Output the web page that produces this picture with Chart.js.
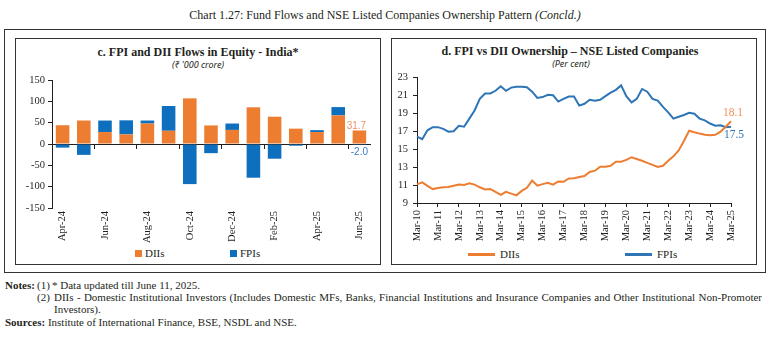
<!DOCTYPE html>
<html>
<head>
<meta charset="utf-8">
<script src="https://cdn.jsdelivr.net/npm/chart.js@4.4.1/dist/chart.umd.min.js"></script>
<style>
  html, body { margin: 0; padding: 0; background: #fff; }
  body { width: 770px; height: 338px; position: relative; overflow: hidden;
         font-family: "Liberation Serif", serif; color: #231f20; }
  .abs { position: absolute; }
  #head { left: 0; top: 8px; width: 770px; text-align: center; font-size: 12px; line-height: 14px; }
  #frame { left: 4px; top: 29px; width: 760px; height: 242px; border: 1px solid #333; }
  .panel { top: 38px; width: 364px; height: 225px; border: 1px solid #333; }
  .ptitle { font-weight: bold; font-size: 12px; line-height: 13px; text-align: center; width: 364px; }
  .psub { font-family: "Noto Sans", sans-serif; font-style: italic; font-size: 9px; line-height: 11px;
          text-align: center; width: 364px; }
  .lg { font-size: 11px; line-height: 12px; }
  .sw { width: 7px; height: 7px; }
  .ln { width: 27px; height: 3px; }
  .note { font-size: 11px; line-height: 12px; white-space: nowrap; }
  .just { text-align: justify; text-align-last: justify; white-space: normal; }
</style>
</head>
<body>
<div id="head" class="abs">Chart 1.27: Fund Flows and NSE Listed Companies Ownership Pattern <i>(Concld.)</i></div>
<div id="frame" class="abs"></div>
<div class="abs panel" style="left:15px"></div>
<div class="abs panel" style="left:391px"></div>

<div class="abs ptitle" style="left:16px; top:46px">c. FPI and DII Flows in Equity - India*</div>
<div class="abs psub" style="left:16px; top:59px">(₹ '000 crore)</div>
<div class="abs ptitle" style="left:388px; top:45px">d. FPI vs DII Ownership – NSE Listed Companies</div>
<div class="abs psub" style="left:389px; top:58px">(Per cent)</div>

<canvas id="flows" class="abs" width="364" height="176" style="left:16px; top:70px"></canvas>
<canvas id="ownership" class="abs" width="364" height="180" style="left:392px; top:66px"></canvas>

<!-- legends -->
<div class="abs sw" style="left:135px; top:250px; background:#ED7D31"></div>
<div class="abs lg" style="left:145px; top:247px">DIIs</div>
<div class="abs sw" style="left:230px; top:250px; background:#0F6FBF"></div>
<div class="abs lg" style="left:240px; top:247px">FPIs</div>
<div class="abs ln" style="left:468px; top:253px; background:#ED7D31"></div>
<div class="abs lg" style="left:500px; top:248px">DIIs</div>
<div class="abs ln" style="left:625px; top:253px; background:#2E75B6"></div>
<div class="abs lg" style="left:657px; top:248px">FPIs</div>

<!-- notes -->
<div class="abs note" style="left:5px; top:279px"><b>Notes:</b></div>
<div class="abs note" style="left:37px; top:279px">(1)</div>
<div class="abs note" style="left:52px; top:279px">* Data updated till June 11, 2025.</div>
<div class="abs note" style="left:37px; top:291px">(2)</div>
<div class="abs note just" style="left:54px; top:291px; width:708px; height:12px; overflow:hidden">DIIs - Domestic Institutional Investors (Includes Domestic MFs, Banks, Financial Institutions and Insurance Companies and Other Institutional Non-Promoter</div>
<div class="abs note" style="left:54px; top:303px">Investors).</div>
<div class="abs note" style="left:5px; top:316px"><b>Sources:</b> Institute of International Finance, BSE, NSDL and NSE.</div>

<script>
// monthly equity flows, '000 crore
const months = ['Apr-24', 'May-24', 'Jun-24', 'Jul-24', 'Aug-24', 'Sep-24', 'Oct-24', 'Nov-24',
                'Dec-24', 'Jan-25', 'Feb-25', 'Mar-25', 'Apr-25', 'May-25', 'Jun-25'];
const diiFlows = [44, 55, 28, 22.5, 48, 31, 107, 43.5, 33, 86, 64, 36, 28, 67, 31.7];
const fpiFlows = [-8.5, -25.5, 27, 33, 7, 58, -94, -21.5, 15, -79, -34.5, -4, 4.5, 19.5, -2.0];
const flowTicks = { min: -150, max: 150, step: 50 };

// quarterly ownership share, per cent (Mar-10 .. Mar-25)
const qMonths = ['Mar', 'Jun', 'Sep', 'Dec'];
const quarters = [];
for (let yr = 10; yr <= 25; yr++) {
  for (const m of qMonths) {
    if (yr === 25 && m !== 'Mar') break;
    quarters.push(m + '-' + yr);
  }
}
const diiShare = [11.07, 11.3, 10.9, 10.55, 10.67, 10.75, 10.78, 10.93, 11.07, 11.0,
                  11.2, 11.05, 10.75, 10.5, 10.55, 10.25, 9.9, 10.25, 10.05, 9.85,
                  10.35, 10.7, 11.5, 10.93, 11.1, 11.25, 11.05, 11.4, 11.36, 11.73,
                  11.76, 11.9, 12.0, 12.45, 12.6, 13.05, 13.05, 13.15, 13.6, 13.6,
                  13.8, 14.1, 13.9, 13.7, 13.47, 13.25, 13.02, 13.15, 13.7, 14.2,
                  14.85, 15.9, 17.05, 16.88, 16.73, 16.6, 16.55, 16.6, 16.95, 17.5, 18.1];
const fpiShare = [16.4, 16.1, 17.1, 17.45, 17.45, 17.25, 16.95, 17.0, 17.6, 17.5,
                  18.4, 19.3, 20.6, 21.2, 21.2, 21.5, 22.0, 21.5, 21.85, 21.95,
                  21.95, 21.9, 21.4, 20.7, 20.8, 21.05, 21.0, 20.3, 20.6, 20.85,
                  20.85, 19.85, 20.05, 20.5, 20.4, 20.5, 20.9, 21.3, 21.6, 22.1,
                  20.9, 20.2, 20.6, 21.7, 21.4, 20.6, 20.4, 19.7, 19.1, 18.4,
                  18.6, 18.8, 19.05, 18.95, 18.4, 18.2, 17.85, 17.6, 17.65, 17.45, 17.5];
const shareTicks = { min: 9, max: 23, step: 2 };

const ORANGE = '#ED7D31';
const BLUE_BAR = '#0F6FBF';
const BLUE_LINE = '#2E75B6';
const INK = '#231f20';
const SERIF = '"Liberation Serif", serif';

// writes the latest value next to the last mark of a dataset
const endLabels = {
  id: 'endLabels',
  afterDatasetsDraw(chart, args, opts) {
    const ctx = chart.ctx;
    ctx.save();
    ctx.textAlign = 'center';
    ctx.textBaseline = 'alphabetic';
    opts.items.forEach(item => {
      const meta = chart.getDatasetMeta(item.dataset);
      const el = meta.data[meta.data.length - 1];
      const vals = chart.data.datasets[item.dataset].data;
      ctx.font = item.font;
      ctx.fillStyle = item.color;
      ctx.fillText(vals[vals.length - 1].toFixed(1), el.x + item.dx, el.y + item.dy);
    });
    ctx.restore();
  }
};

Chart.defaults.animation = false;
Chart.defaults.font.family = SERIF;
Chart.defaults.color = INK;

new Chart(document.getElementById('flows'), {
  type: 'bar',
  data: {
    labels: months,
    datasets: [
      { label: 'DIIs', data: diiFlows, backgroundColor: ORANGE },
      { label: 'FPIs', data: fpiFlows, backgroundColor: BLUE_BAR }
    ]
  },
  options: {
    responsive: false,
    layout: { padding: { top: 10, right: 10, left: 0, bottom: 0 } },
    barPercentage: 0.64,
    categoryPercentage: 1,
    plugins: {
      legend: { display: false },
      tooltip: { enabled: false },
      endLabels: {
        items: [
          { dataset: 0, dx: -3, dy: -1, color: '#F2916A', font: '10px "Liberation Sans", sans-serif' },
          { dataset: 1, dx: 0, dy: 10, color: '#3B7CC4', font: '10px "Liberation Sans", sans-serif' }
        ]
      }
    },
    scales: {
      x: {
        stacked: true,
        grid: { display: false, drawTicks: false },
        border: { display: false },
        ticks: {
          autoSkip: false, minRotation: 90, maxRotation: 90, padding: 3,
          font: { size: 10.5 },
          callback: function (v, i) { return i % 2 === 0 ? this.getLabelForValue(v) : ''; }
        },
        afterFit: s => { s.height = 38; }
      },
      // zero line with a tick mark every two months
      xZero: {
        axis: 'x',
        type: 'category',
        labels: months,
        position: { y: 0 },
        offset: true,
        z: 1,
        grid: {
          offset: true,
          drawOnChartArea: false,
          tickLength: 4,
          color: ctx => (ctx.index > 0 && ctx.index % 2 === 0) ? INK : 'rgba(0,0,0,0)'
        },
        border: { color: INK },
        ticks: { display: false }
      },
      y: {
        stacked: true,
        min: flowTicks.min, max: flowTicks.max,
        ticks: { stepSize: flowTicks.step, padding: 3, font: { size: 10.5 } },
        grid: { drawOnChartArea: false, tickLength: 4, color: INK },
        border: { color: INK },
        afterFit: s => { s.width = 36; }
      }
    }
  },
  plugins: [endLabels]
});

new Chart(document.getElementById('ownership'), {
  type: 'line',
  data: {
    labels: quarters,
    datasets: [
      { label: 'DIIs', data: diiShare, borderColor: ORANGE, backgroundColor: ORANGE,
        borderWidth: 2, pointRadius: 0, tension: 0 },
      { label: 'FPIs', data: fpiShare, borderColor: BLUE_LINE, backgroundColor: BLUE_LINE,
        borderWidth: 2, pointRadius: 0, tension: 0 }
    ]
  },
  options: {
    responsive: false,
    layout: { padding: { top: 8, right: 25, left: 0, bottom: 0 } },
    plugins: {
      legend: { display: false },
      tooltip: { enabled: false },
      endLabels: {
        items: [
          { dataset: 0, dx: 2, dy: -5, color: '#F0905A', font: '11.5px ' + SERIF },
          { dataset: 1, dx: 3, dy: 11, color: BLUE_LINE, font: '11.5px ' + SERIF }
        ]
      }
    },
    scales: {
      x: {
        offset: false,
        grid: {
          drawOnChartArea: false,
          tickLength: 4,
          color: ctx => (ctx.index % 4 === 0) ? INK : 'rgba(0,0,0,0)'
        },
        border: { color: INK },
        ticks: {
          autoSkip: false, minRotation: 90, maxRotation: 90, padding: 3,
          font: { size: 10.5 },
          callback: function (v, i) { return i % 4 === 0 ? this.getLabelForValue(v) : ''; }
        },
        afterFit: s => { s.height = 43; }
      },
      y: {
        min: shareTicks.min, max: shareTicks.max,
        ticks: { stepSize: shareTicks.step, padding: 5, font: { size: 10.5 } },
        grid: { drawOnChartArea: false, tickLength: 4, color: INK },
        border: { color: INK },
        afterFit: s => { s.width = 25; }
      }
    }
  },
  plugins: [endLabels]
});
</script>
</body>
</html>
